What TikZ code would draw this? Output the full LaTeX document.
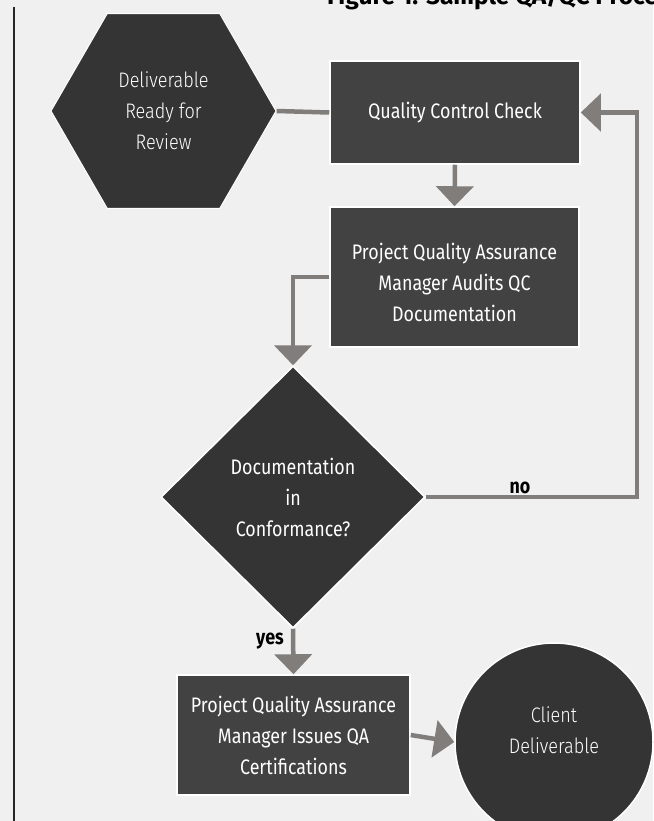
\documentclass[tikz,border=0pt]{standalone}
\usepackage{fontspec}
\setmainfont{Fira Sans}[FakeStretch=0.85]
\newfontfamily\lightf{Fira Sans}[FakeStretch=0.86, UprightFont=* Light]
\newfontfamily\capf{Fira Sans}
\usetikzlibrary{shapes.geometric,arrows.meta}
\definecolor{bg}{RGB}{240,240,240}
\definecolor{boxfill}{RGB}{66,66,66}
\definecolor{darkfill}{RGB}{52,52,52}
\definecolor{conn}{RGB}{128,125,122}
\tikzset{
  stepbox/.style={rectangle, fill=boxfill, draw=white, line width=1.5pt, inner sep=0pt,
    text=white, align=center, font=\fontsize{21}{31}\selectfont},
  hexbox/.style={regular polygon, regular polygon sides=6, fill=darkfill, draw=white, line width=1pt,
    inner sep=0pt, minimum size=225pt, text=white, align=center, font=\lightf\fontsize{21}{31}\selectfont},
  decbox/.style={diamond, fill=darkfill, draw=white, line width=1.5pt, inner sep=0pt,
    minimum width=264pt, minimum height=262pt, text=white, align=center, font=\fontsize{21}{31}\selectfont},
  endbox/.style={circle, fill=darkfill, draw=white, line width=1.5pt, inner sep=0pt,
    minimum size=198pt, text=white, align=center, font=\lightf\fontsize{21}{31}\selectfont},
  link/.style={draw=conn, line width=4.5pt},
  arrowlink/.style={link, -{Triangle[width=37pt,length=20pt]}},
  lbl/.style={font=\bfseries\fontsize{21}{24}\selectfont, text=black, inner sep=0pt}
}
\begin{document}
\begin{tikzpicture}[x=1pt,y=-1pt]
\useasboundingbox (0,0) rectangle (653,821);
\clip (0,0) rectangle (653,821);
\fill[bg] (0,0) rectangle (653,821);
% caption, cut off at the top as in the source
\node[anchor=base west, font=\capf\bfseries\fontsize{24.5}{26}\selectfont, inner sep=0pt] (cap) at (327,5) {Figure 1: Sample QA/QC Process};
% left rule
\coordinate (ruletop) at (14,7);
\coordinate (rulebot) at (14,821);
\draw[line width=2.5pt, black!85] (ruletop) -- (rulebot);
% nodes
\node[hexbox] (hex) at (163.5,111) {Deliverable\\Ready for\\Review};
\node[stepbox, minimum width=250pt, minimum height=103pt] (qc) at (455,112.5) {Quality Control Check};
\node[stepbox, minimum width=249pt, minimum height=140pt, text height=89pt] (audit) at (454.5,277) {Project Quality Assurance\\Manager Audits QC\\Documentation};
\node[decbox] (dec) at (293,497) {Documentation\\in\\Conformance?};
\node[stepbox, minimum width=233pt, minimum height=120pt] (cert) at (293.5,735) {Project Quality Assurance\\Manager Issues QA\\Certifications};
\node[endbox, text depth=24pt] (client) at (554,742) {Client\\Deliverable};
% connectors
\draw[link] (hex.east) -- (qc.west);
\draw[arrowlink] (qc.south) -- (audit.north);
\draw[arrowlink] (audit.west) -| (dec.north);
\coordinate (noX) at (637,0);
\coordinate (nocorner) at (dec.east -| noX);
\draw[arrowlink] (dec.east) -- (nocorner) |- (qc.east);
\node[lbl] (no) at (520,488) {no};
\draw[arrowlink] (dec.south) -- (cert.north);
\node[lbl] (yes) at (270,641) {yes};
\draw[arrowlink] (cert.east) -- (client.west);
\end{tikzpicture}
\end{document}
